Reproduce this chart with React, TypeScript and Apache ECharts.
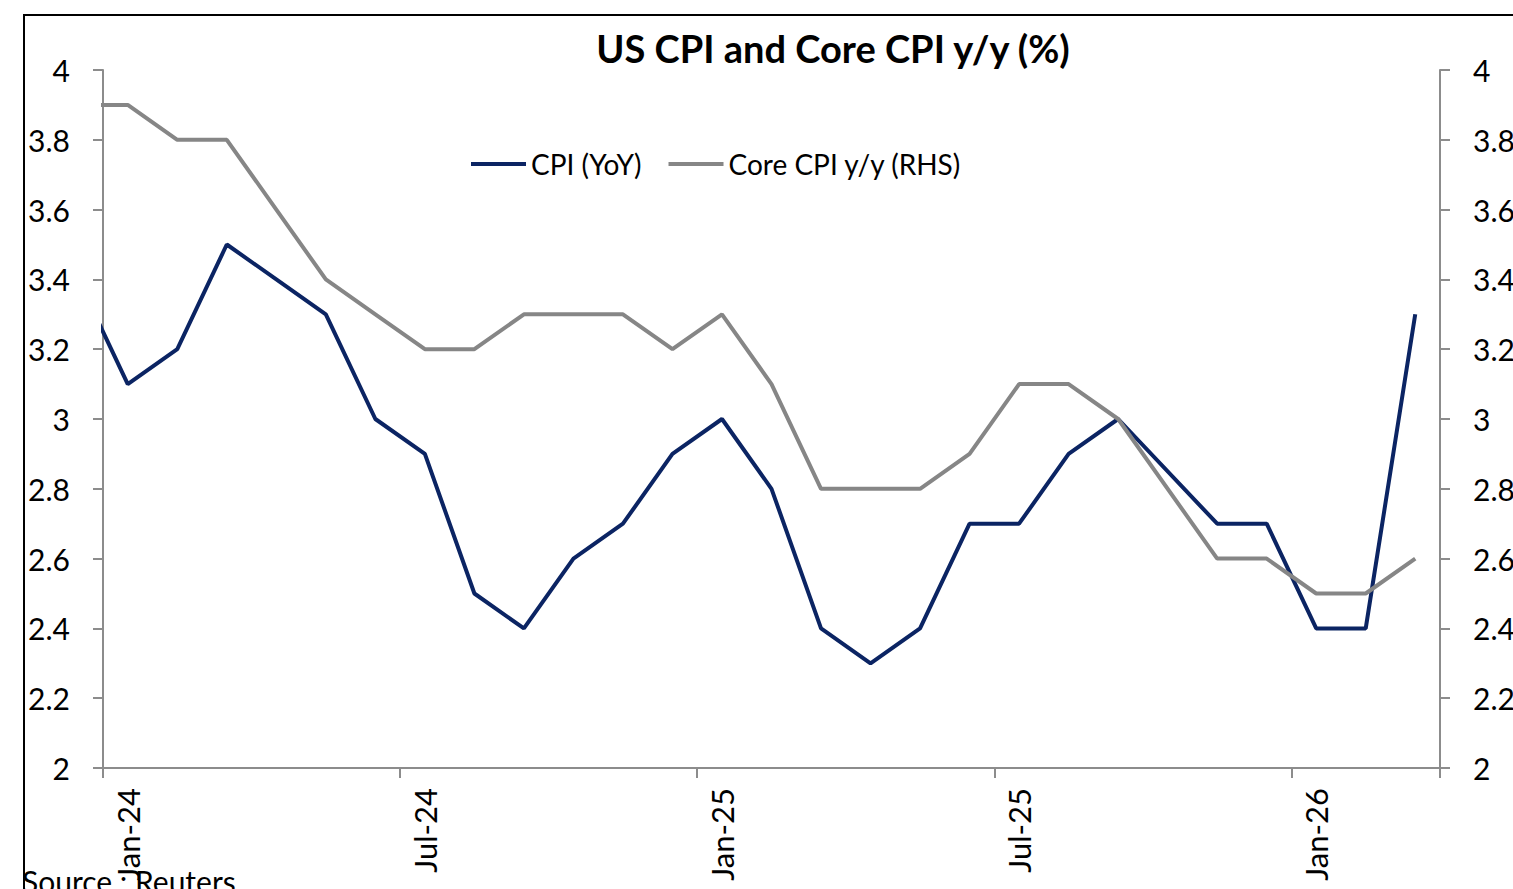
import React, { useEffect, useRef } from "react";
import * as echarts from "echarts";

// Months, including Dec-23 which sits just left of the plot area (clipped)
const months = [
  "Dec-23",
  "Jan-24", "Feb-24", "Mar-24", "Apr-24", "May-24", "Jun-24",
  "Jul-24", "Aug-24", "Sep-24", "Oct-24", "Nov-24", "Dec-24",
  "Jan-25", "Feb-25", "Mar-25", "Apr-25", "May-25", "Jun-25",
  "Jul-25", "Aug-25", "Sep-25", "Oct-25", "Nov-25", "Dec-25",
  "Jan-26", "Feb-26", "Mar-26",
];
const axisCategories = months.slice(1);

const cpiYoY: (number | null)[] = [
  3.4,
  3.1, 3.2, 3.5, 3.4, 3.3, 3.0,
  2.9, 2.5, 2.4, 2.6, 2.7, 2.9,
  3.0, 2.8, 2.4, 2.3, 2.4, 2.7,
  2.7, 2.9, 3.0, null, 2.7, 2.7,
  2.4, 2.4, 3.3,
];
const coreCpiYoY: (number | null)[] = [
  3.9,
  3.9, 3.8, 3.8, 3.6, 3.4, 3.3,
  3.2, 3.2, 3.3, 3.3, 3.3, 3.2,
  3.3, 3.1, 2.8, 2.8, 2.8, 2.9,
  3.1, 3.1, 3.0, null, 2.6, 2.6,
  2.5, 2.5, 2.6,
];

const yMin = 2;
const yMax = 4;
const yStep = 0.2;

const NAVY = "#0B2463";
const GREY = "#868686";
const AXIS = "#8C8C8C";
const FONT = "Lato, 'Noto Sans', sans-serif";

const toPairs = (arr: (number | null)[]) =>
  arr.map((v, i) => [i - 1, v === null ? "-" : v]);

export default function App() {
  const ref = useRef<HTMLDivElement>(null);

  useEffect(() => {
    if (!ref.current) return;
    const chart = echarts.init(ref.current, undefined, { renderer: "svg" });

    const yAxisCommon = {
      type: "value" as const,
      min: yMin,
      max: yMax,
      interval: yStep,
      splitLine: { show: false },
      axisLine: { show: true, onZero: false, lineStyle: { color: AXIS, width: 2 } },
      axisTick: { show: true, inside: false, length: 10, lineStyle: { color: AXIS, width: 2 } },
      axisLabel: { color: "#000", fontSize: 30, fontFamily: FONT, margin: 33 },
    };

    chart.setOption({
      animation: false,
      backgroundColor: "#fff",
      title: {
        text: "US CPI and Core CPI y/y (%)",
        left: 828,
        textAlign: "center",
        top: 24,
        textStyle: { fontSize: 38, fontWeight: "bold", color: "#000", fontFamily: FONT },
      },
      legend: {
        left: 466,
        top: 145,
        icon: "rect",
        itemWidth: 55,
        itemHeight: 4,
        itemGap: 27,
        textStyle: { fontSize: 28, color: "#000", fontFamily: FONT },
        data: ["CPI (YoY)", "Core CPI y/y (RHS)"],
      },
      grid: {
        left: 103,
        top: 70,
        width: 1337,
        height: 698,
        containLabel: false,
        outerBoundsMode: "none",
      },
      xAxis: [
        {
          type: "category",
          data: axisCategories,
          boundaryGap: true,
          position: "bottom",
          axisLine: { show: true, onZero: false, lineStyle: { color: AXIS, width: 2 } },
          axisTick: { show: true, interval: 5, length: 10, lineStyle: { color: AXIS, width: 2 } },
          axisLabel: {
            interval: 5,
            rotate: 90,
            fontSize: 31,
            color: "#000",
            fontFamily: FONT,
            margin: 20,
          },
          splitLine: { show: false },
        },
        {
          type: "value",
          min: -0.5,
          max: axisCategories.length - 0.5,
          show: false,
          axisLine: { onZero: false },
          splitLine: { show: false },
        },
      ],
      yAxis: [
        { ...yAxisCommon, position: "left" },
        { ...yAxisCommon, position: "right" },
      ],
      series: [
        {
          name: "CPI (YoY)",
          type: "line",
          xAxisIndex: 1,
          yAxisIndex: 0,
          data: toPairs(cpiYoY),
          connectNulls: true,
          clip: true,
          showSymbol: false,
          symbol: "none",
          lineStyle: { color: NAVY, width: 4 },
          itemStyle: { color: NAVY },
        },
        {
          name: "Core CPI y/y (RHS)",
          type: "line",
          xAxisIndex: 1,
          yAxisIndex: 1,
          data: toPairs(coreCpiYoY),
          connectNulls: true,
          clip: true,
          showSymbol: false,
          symbol: "none",
          lineStyle: { color: GREY, width: 4 },
          itemStyle: { color: GREY },
        },
      ],
      graphic: [
        {
          type: "rect",
          left: 23,
          top: 14,
          shape: { width: 1600, height: 1000 },
          style: { fill: "transparent", stroke: "#000", lineWidth: 2 },
          silent: true,
          z: -1,
        },
        {
          type: "text",
          left: 22,
          top: 866,
          style: { text: "Source : Reuters", fontSize: 30, fontFamily: FONT, fill: "#000" },
          z: 10,
        },
      ],
    });

    return () => chart.dispose();
  }, []);

  return (
    <div
      ref={ref}
      style={{ position: "fixed", left: 0, top: 0, width: 1513, height: 889, background: "#fff" }}
    />
  );
}
